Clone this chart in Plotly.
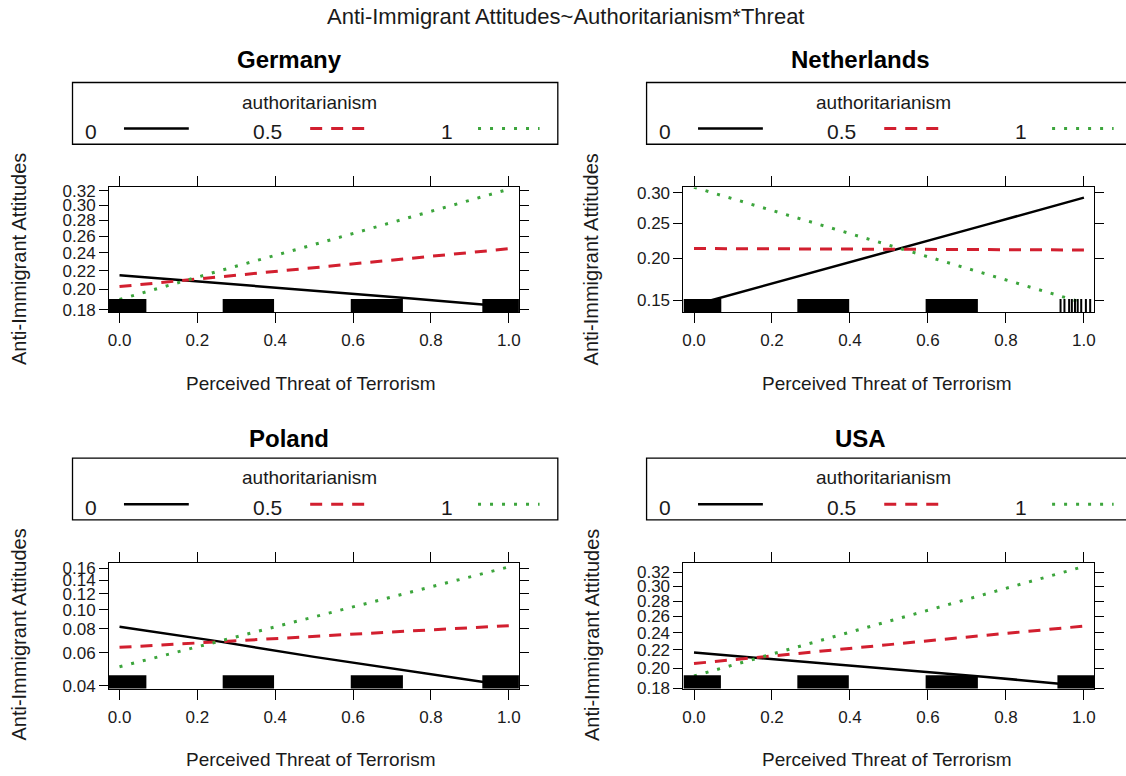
import numpy as np
import plotly.graph_objects as go

W, H = 1126, 776

# ---------------- data ----------------
threat = [0.0, 0.25, 0.5, 0.75, 1.0]
auth_levels = ["0", "0.5", "1"]
countries = ["Germany", "Netherlands", "Poland", "USA"]

germany_auth0 = [0.215, 0.207, 0.199, 0.191, 0.183]
germany_auth05 = [0.203, 0.213, 0.223, 0.234, 0.245]
germany_auth1 = [0.190, 0.219, 0.250, 0.285, 0.322]

netherlands_auth0 = [0.145, 0.175, 0.209, 0.248, 0.292]
netherlands_auth05 = [0.213, 0.2125, 0.212, 0.2115, 0.211]
netherlands_auth1 = [0.310, 0.261, 0.218, 0.180, 0.147]

poland_auth0 = [0.082, 0.069, 0.057, 0.048, 0.040]
poland_auth05 = [0.064, 0.0685, 0.073, 0.078, 0.083]
poland_auth1 = [0.0505, 0.0685, 0.092, 0.123, 0.162]

usa_auth0 = [0.217, 0.208, 0.200, 0.191, 0.182]
usa_auth05 = [0.205, 0.215, 0.226, 0.237, 0.248]
usa_auth1 = [0.192, 0.2215, 0.254, 0.290, 0.328]

x_ticks = [0.0, 0.2, 0.4, 0.6, 0.8, 1.0]
x_ticklabels = ["0.0", "0.2", "0.4", "0.6", "0.8", "1.0"]

germany_yticks = [0.18, 0.20, 0.22, 0.24, 0.26, 0.28, 0.30, 0.32]
netherlands_yticks = [0.15, 0.20, 0.25, 0.30]
poland_yticks = [0.04, 0.06, 0.08, 0.10, 0.12, 0.14, 0.16]
usa_yticks = [0.18, 0.20, 0.22, 0.24, 0.26, 0.28, 0.30, 0.32]

germany_yrange = [0.178, 0.3245]
netherlands_yrange = [0.138, 0.3097]
poland_yrange = [0.0386, 0.169]
usa_yrange = [0.1795, 0.333]

# rug: dense blocks of jittered observations (start, end) and single rug ticks
rug_block_starts = [-0.03, 0.265, 0.594, 0.932]
rug_block_ends = [0.069, 0.397, 0.728, 1.03]
netherlands_block_starts = [-0.03, 0.265, 0.594]
netherlands_block_ends = [0.07, 0.398, 0.728]
netherlands_rug_ticks = [0.940, 0.950, 0.962, 0.969, 0.977, 0.984, 0.993, 1.005, 1.016]

series = {
    "Germany": [germany_auth0, germany_auth05, germany_auth1],
    "Netherlands": [netherlands_auth0, netherlands_auth05, netherlands_auth1],
    "Poland": [poland_auth0, poland_auth05, poland_auth1],
    "USA": [usa_auth0, usa_auth05, usa_auth1],
}
yticks = {"Germany": germany_yticks, "Netherlands": netherlands_yticks,
          "Poland": poland_yticks, "USA": usa_yticks}
yranges = {"Germany": germany_yrange, "Netherlands": netherlands_yrange,
           "Poland": poland_yrange, "USA": usa_yrange}

# ---------------- styling ----------------
FONT = "Liberation Sans, Arial, sans-serif"
TXT = "#1a1a1a"
line_styles = [
    dict(color="black", width=2.5, dash="solid"),
    dict(color="#D21F2F", width=3, dash="12px,9px"),
    dict(color="#3CA53C", width=3, dash="3px,9px"),
]
XRANGE = [-0.027, 1.026]

# panel boxes in pixels: left, right, top, bottom
boxes = {
    "Germany": (108.3, 519.3, 185, 312),
    "Netherlands": (684.3, 1096, 185, 312),
    "Poland": (108.3, 519.3, 568, 696),
    "USA": (684.3, 1096, 568, 696),
}
legend_left = {"Germany": 71.7, "Netherlands": 647.3, "Poland": 71.7, "USA": 647.3}
legend_top = {"Germany": 78, "Netherlands": 78, "Poland": 461, "USA": 461}
title_pos = {"Germany": (289, 55), "Netherlands": (862, 55), "Poland": (289, 441), "USA": (862, 441)}
ylab_pos = {"Germany": (18, 258), "Netherlands": (592, 258), "Poland": (18, 641), "USA": (592, 641)}
xlab_pos = {"Germany": (311, 385), "Netherlands": (888, 385), "Poland": (311, 768), "USA": (888, 768)}


def px(x):
    return x / W


def py(y):
    return 1 - y / H


def logit(p):
    p = np.asarray(p, dtype=float)
    return np.log(p / (1 - p))


fig = go.Figure()
shapes = []
annotations = []

annotations.append(dict(text="Anti-Immigrant Attitudes~Authoritarianism*Threat",
                        x=px(566), y=py(11), xref="paper", yref="paper",
                        showarrow=False, font=dict(family=FONT, size=22, color=TXT),
                        xanchor="center", yanchor="middle"))

for i, c in enumerate(countries):
    s = "" if i == 0 else str(i + 1)
    l, r, t, b = boxes[c]
    for vals, st in zip(series[c], line_styles):
        fig.add_trace(go.Scatter(x=threat, y=logit(vals), mode="lines", line=st,
                                 xaxis="x" + s, yaxis="y" + s, showlegend=False,
                                 hoverinfo="skip"))
    fig.layout["xaxis" + s] = dict(
        domain=[px(l), px(r)], range=XRANGE, anchor="y" + s,
        tickvals=x_ticks, ticktext=x_ticklabels, showline=True, mirror="allticks",
        linecolor="black", linewidth=1, ticks="outside", ticklen=10, tickcolor="black",
        showgrid=False, zeroline=False, ticklabelstandoff=3,
        tickfont=dict(family=FONT, size=17, color=TXT))
    yt = yticks[c]
    fig.layout["yaxis" + s] = dict(
        domain=[py(b), py(t)], range=list(logit(yranges[c])), anchor="x" + s,
        tickvals=list(logit(yt)), ticktext=["%.2f" % v for v in yt],
        showline=True, mirror="allticks", linecolor="black", linewidth=1,
        ticks="outside", ticklen=9, tickcolor="black", showgrid=False, zeroline=False,
        tickfont=dict(family=FONT, size=17, color=TXT))

    # rug
    if c == "Netherlands":
        starts, ends = netherlands_block_starts, netherlands_block_ends
    else:
        starts, ends = rug_block_starts, rug_block_ends
    for a0, a1 in zip(starts, ends):
        shapes.append(dict(type="rect", xref="x" + s, yref="y" + s + " domain",
                           x0=max(a0, XRANGE[0]), x1=min(a1, XRANGE[1]), y0=0, y1=0.105,
                           fillcolor="black", line=dict(width=0)))
    if c == "Netherlands":
        for v in netherlands_rug_ticks:
            shapes.append(dict(type="line", xref="x" + s, yref="y" + s + " domain",
                               x0=v, x1=v, y0=0, y1=0.105, line=dict(color="black", width=2)))

    # panel title
    tx, ty = title_pos[c]
    annotations.append(dict(text="<b>%s</b>" % c, x=px(tx), y=py(ty), xref="paper", yref="paper",
                            showarrow=False, font=dict(family=FONT, size=24, color="black"),
                            xanchor="center", yanchor="middle"))
    # axis titles
    yx, yy = ylab_pos[c]
    annotations.append(dict(text="Anti-Immigrant Attitudes", x=px(yx), y=py(yy), xref="paper",
                            yref="paper", showarrow=False, textangle=-90,
                            font=dict(family=FONT, size=20, color=TXT),
                            xanchor="center", yanchor="middle"))
    xx, xy = xlab_pos[c]
    annotations.append(dict(text="Perceived Threat of Terrorism", x=px(xx), y=py(xy), xref="paper",
                            yref="paper", showarrow=False,
                            font=dict(family=FONT, size=19, color=TXT),
                            xanchor="center", yanchor="middle"))

    # legend box
    L = legend_left[c]
    T = legend_top[c]
    shapes.append(dict(type="rect", xref="paper", yref="paper", x0=px(L), x1=px(L + 486.6),
                       y0=py(T + 63), y1=py(T), line=dict(color="black", width=1.3),
                       fillcolor="rgba(0,0,0,0)"))
    annotations.append(dict(text="authoritarianism", x=px(L + 238), y=py(T + 20),
                            xref="paper", yref="paper", showarrow=False,
                            font=dict(family=FONT, size=19, color=TXT),
                            xanchor="center", yanchor="middle"))
    row_y = T + 49
    label_dx = [18.3, 195.6, 375.0]
    seg = [(51.6, 116.6), (238.3, 296.6), (406.6, 468.3)]
    for lab, dx, (s0, s1), st in zip(auth_levels, label_dx, seg, line_styles):
        annotations.append(dict(text=lab, x=px(L + dx), y=py(row_y + 1), xref="paper",
                                yref="paper", showarrow=False,
                                font=dict(family=FONT, size=21, color=TXT),
                                xanchor="center", yanchor="middle"))
        shapes.append(dict(type="line", xref="paper", yref="paper",
                           x0=px(L + s0), x1=px(L + s1), y0=py(row_y - 2), y1=py(row_y - 2),
                           line=dict(color=st["color"], width=st["width"], dash=st["dash"])))

fig.update_layout(width=W, height=H, margin=dict(l=0, r=0, t=0, b=0),
                  paper_bgcolor="white", plot_bgcolor="white",
                  shapes=shapes, annotations=annotations, showlegend=False)

fig.write_html("out.html", config={"displayModeBar": False},
               post_script="document.body.style.margin='0px';")
